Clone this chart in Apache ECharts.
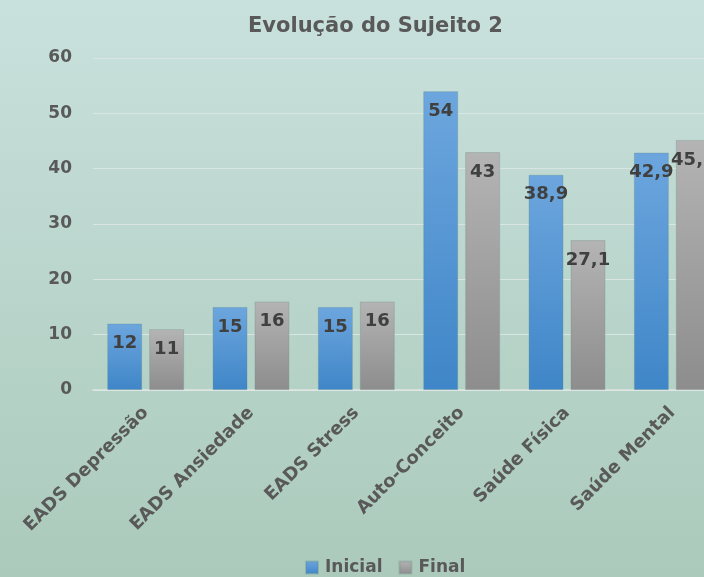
<!DOCTYPE html>
<html>
<head>
<meta charset="utf-8">
<script src="https://cdn.jsdelivr.net/npm/echarts@6/dist/echarts.min.js"></script>
<style>
  html, body { margin: 0; padding: 0; }
  #chart { width: 704px; height: 577px; }
</style>
</head>
<body>
<div id="chart"></div>
<script>
// dados do gráfico
const categorias = ['EADS Depressão', 'EADS Ansiedade', 'EADS Stress', 'Auto-Conceito', 'Saúde Física', 'Saúde Mental'];
const inicial = [12, 15, 15, 54, 38.9, 42.9];
const final = [11, 16, 16, 43, 27.1, 45.2];
const yTicks = [0, 10, 20, 30, 40, 50, 60];

const fonte = 'DejaVu Sans';
const cinzaTexto = '#595959';

const chart = echarts.init(document.getElementById('chart'));

function grad(top, bottom) {
    return new echarts.graphic.LinearGradient(0, 0, 0, 1, [
        { offset: 0, color: top },
        { offset: 1, color: bottom }
    ]);
}

const rotulo = {
    show: true,
    position: 'insideTop',
    distance: 11,
    color: '#404040',
    fontFamily: fonte,
    fontWeight: 'bold',
    fontSize: 18,
    formatter: p => String(p.value).replace('.', ',')
};

chart.setOption({
    backgroundColor: grad('#c9e1dd', '#abcabb'),
    animation: false,
    title: {
        text: 'Evolução do Sujeito 2',
        left: 243,
        top: 11,
        textStyle: { color: cinzaTexto, fontFamily: fonte, fontWeight: 'bold', fontSize: 21 }
    },
    legend: {
        data: ['Inicial', 'Final'],
        left: 300,
        top: 554,
        itemWidth: 12,
        itemHeight: 12,
        itemGap: 16,
        icon: 'rect',
        textStyle: { color: cinzaTexto, fontFamily: fonte, fontWeight: 'bold', fontSize: 17, padding: [0, 0, 0, 2] }
    },
    grid: { left: 93, top: 58, width: 632, height: 332, outerBoundsMode: 'none' },
    xAxis: {
        type: 'category',
        data: categorias,
        axisTick: { show: false },
        axisLine: { lineStyle: { color: '#dfe6e4', width: 1.5 } },
        axisLabel: {
            rotate: 45,
            interval: 0,
            margin: 20,
            color: cinzaTexto,
            fontFamily: fonte,
            fontWeight: 'bold',
            fontSize: 18
        }
    },
    yAxis: {
        type: 'value',
        min: yTicks[0],
        max: yTicks[yTicks.length - 1],
        interval: 10,
        axisLine: { show: false },
        axisTick: { show: false },
        splitLine: { lineStyle: { color: '#d8e5e2', width: 1 } },
        axisLabel: {
            margin: 21,
            color: cinzaTexto,
            fontFamily: fonte,
            fontWeight: 'bold',
            fontSize: 17
        }
    },
    series: [
        {
            name: 'Inicial',
            type: 'bar',
            data: inicial,
            barGap: '20%',
            barCategoryGap: '27%',
            itemStyle: {
                color: grad('#6da6de', '#3f86c8'),
                borderColor: 'rgba(90,140,150,0.35)',
                borderWidth: 1
            },
            label: rotulo
        },
        {
            name: 'Final',
            type: 'bar',
            data: final,
            itemStyle: {
                color: grad('#b4b4b4', '#8d8d8d'),
                borderColor: 'rgba(120,140,140,0.35)',
                borderWidth: 1
            },
            label: rotulo
        }
    ]
});
</script>
</body>
</html>
